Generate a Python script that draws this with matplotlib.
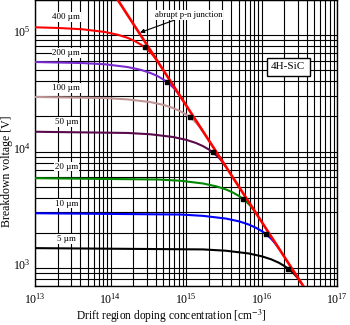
import matplotlib
matplotlib.use("Agg")
import matplotlib.pyplot as plt
from matplotlib.transforms import ScaledTranslation

plt.rcParams['font.family'] = ['Liberation Serif', 'DejaVu Serif']
plt.rcParams['mathtext.fontset'] = 'stix'

# Abrupt p-n junction (non-punch-through) limit
npt_N = [1e14, 1e15, 1e16, 1e17]
npt_V = [2.5e5, 2.5e4, 2.5e3, 2.5e2]

# Punch-through curves for different drift region thicknesses
labels = ["400 µm", "200 µm", "100 µm", "50 µm", "20 µm", "10 µm", "5 µm"]
colors = ["#ff0000", "#7a2bd0", "#c09595", "#5a0a4a", "#008800", "#0000ff", "#000000"]

N_400 = [1e13, 2.12e13, 4.24e13, 8.48e13, 1.27e14, 1.70e14, 2.12e14, 2.54e14, 2.97e14, 3.39e14, 3.82e14, 4.24e14]
V_400 = [1.166e5, 1.149e5, 1.121e5, 1.062e5, 1.003e5, 9.44e4, 8.85e4, 8.26e4, 7.67e4, 7.08e4, 6.49e4, 5.9e4]

N_200 = [1e13, 4.24e13, 8.47e13, 1.69e14, 2.54e14, 3.39e14, 4.24e14, 5.08e14, 5.93e14, 6.78e14, 7.62e14, 8.47e14]
V_200 = [5.87e4, 5.75e4, 5.61e4, 5.31e4, 5.02e4, 4.72e4, 4.43e4, 4.13e4, 3.84e4, 3.54e4, 3.25e4, 2.95e4]

N_100 = [1e13, 8.5e13, 1.70e14, 3.39e14, 5.09e14, 6.78e14, 8.48e14, 1.017e15, 1.187e15, 1.356e15, 1.526e15, 1.695e15]
V_100 = [2.94e4, 2.88e4, 2.80e4, 2.655e4, 2.51e4, 2.36e4, 2.21e4, 2.065e4, 1.92e4, 1.77e4, 1.62e4, 1.475e4]

N_50 = [1e13, 1.69e14, 3.38e14, 6.76e14, 1.014e15, 1.352e15, 1.69e15, 2.028e15, 2.366e15, 2.704e15, 3.042e15, 3.38e15]
V_50 = [1.478e4, 1.443e4, 1.406e4, 1.332e4, 1.258e4, 1.184e4, 1.11e4, 1.036e4, 9.62e3, 8.88e3, 8.14e3, 7.4e3]

N_20 = [1e13, 4.24e14, 8.47e14, 1.694e15, 2.541e15, 3.388e15, 4.235e15, 5.082e15, 5.929e15, 6.776e15, 7.623e15, 8.47e15]
V_20 = [5.9e3, 5.75e3, 5.61e3, 5.31e3, 5.015e3, 4.72e3, 4.425e3, 4.13e3, 3.835e3, 3.54e3, 3.245e3, 2.95e3]

N_10 = [1e13, 8.5e14, 1.695e15, 3.39e15, 5.085e15, 6.78e15, 8.475e15, 1.017e16, 1.1865e16, 1.356e16, 1.5255e16, 1.695e16]
V_10 = [2.95e3, 2.876e3, 2.80e3, 2.655e3, 2.51e3, 2.36e3, 2.21e3, 2.065e3, 1.92e3, 1.77e3, 1.62e3, 1.475e3]

N_5 = [1e13, 1.69e15, 3.38e15, 6.76e15, 1.014e16, 1.352e16, 1.69e16, 2.028e16, 2.366e16, 2.704e16, 3.042e16, 3.38e16]
V_5 = [1.48e3, 1.443e3, 1.406e3, 1.332e3, 1.258e3, 1.184e3, 1.11e3, 1.036e3, 962, 888, 814, 740]

# Optimum punch-through design points (black squares)
opt_N = [2.83e14, 5.65e14, 1.13e15, 2.25e15, 5.65e15, 1.13e16, 2.25e16]
opt_V = [7.87e4, 3.93e4, 1.97e4, 9.87e3, 3.93e3, 1.97e3, 987]

# Label anchor positions
label_N = [2.6e13] * 7
label_V = [1.43e5, 7.0e4, 3.52e4, 1.8e4, 7.4e3, 3.56e3, 1.78e3]

curves_N = [N_400, N_200, N_100, N_50, N_20, N_10, N_5]
curves_V = [V_400, V_200, V_100, V_50, V_20, V_10, V_5]

fig = plt.figure(figsize=(3.5, 3.25), dpi=100)
ax = fig.add_axes([0.1, 0.12, 0.8629, 0.88])
ax.set_xscale('log')
ax.set_yscale('log')
ax.set_xlim(1e13, 1e17)
ax.set_ylim(700, 2e5)

ax.grid(True, which='both', color='black', linewidth=0.8)
ax.set_axisbelow(True)

for Ns, Vs, c in zip(curves_N, curves_V, colors):
    ax.plot(Ns, Vs, color=c, linewidth=1.5, solid_capstyle='butt', zorder=3)

ax.plot(npt_N, npt_V, color='#ff0000', linewidth=1.9, zorder=4)
ax.plot(opt_N, opt_V, linestyle='none', marker='s', markersize=3.2,
        color='black', zorder=5)

for n, v, t in zip(label_N, label_V, labels):
    ax.text(n, v, t, fontsize=6.5, ha='center', va='center', zorder=6,
            bbox=dict(facecolor='white', edgecolor='none', pad=0.5))

ax.annotate("abrupt p-n junction", xy=(2.46e14, 1.05e5), xytext=(3.88e14, 1.49e5),
            fontsize=6.3, ha='left', va='center', zorder=6,
            bbox=dict(facecolor='white', edgecolor='none', pad=0.5),
            arrowprops=dict(arrowstyle='-|>', color='black', lw=0.8,
                            mutation_scale=6, shrinkA=1, shrinkB=0))

ax.text(2.26e16, 5.32e4, "4H-SiC", fontsize=8, ha='center', va='center', zorder=6,
        bbox=dict(boxstyle='square,pad=0.4', facecolor='white', edgecolor='black',
                  linewidth=1.0))

ax.tick_params(which='both', length=0, labelsize=8.5)
ax.tick_params(axis='x', pad=4)
ax.tick_params(axis='y', pad=3)
shift = ScaledTranslation(0, 4 / 100, fig.dpi_scale_trans)
for lab in ax.get_yticklabels(which='both'):
    lab.set_transform(lab.get_transform() + shift)
for s in ax.spines.values():
    s.set_linewidth(1.0)

ax.set_xlabel("Drift region doping concentration [cm$^{-3}$]", fontsize=8.3)
ax.set_ylabel("Breakdown voltage [V]", fontsize=8.5)
ax.xaxis.set_label_coords(0.453, -0.076)
ax.yaxis.set_label_coords(-0.072, 0.40)

fig.savefig("out.png", dpi=100)
